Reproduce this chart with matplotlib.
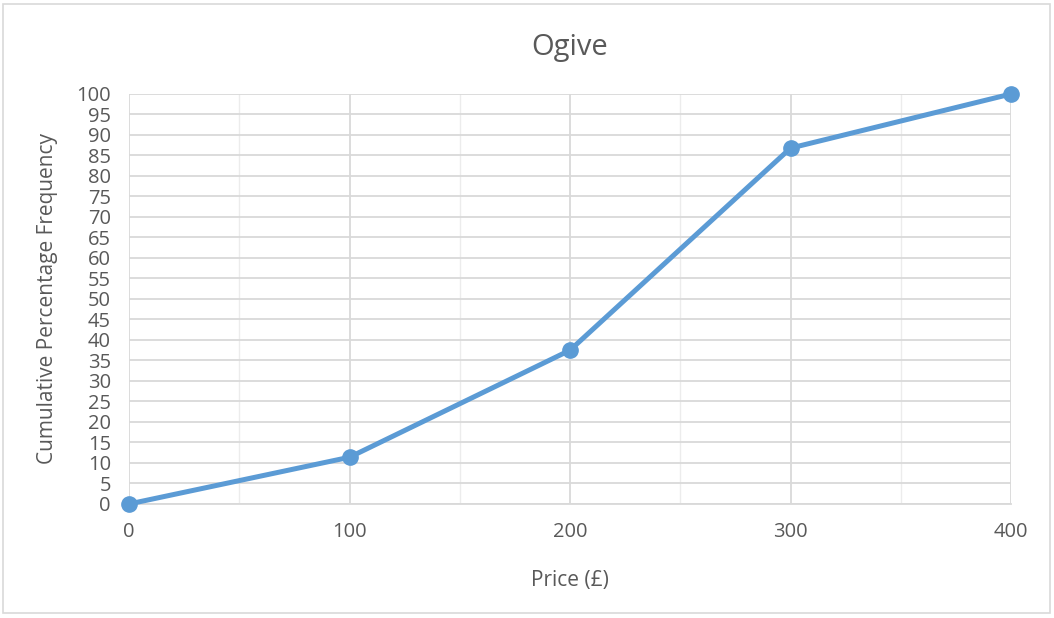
import matplotlib
matplotlib.use("Agg")
import matplotlib.pyplot as plt
from matplotlib.patches import Rectangle

price = [0, 100, 200, 300, 400]
cum_pct = [0, 11.4, 37.5, 86.8, 100]
y_ticks = list(range(0, 101, 5))
x_ticks = [0, 100, 200, 300, 400]

plt.rcParams['font.family'] = ['Open Sans', 'DejaVu Sans']

fig = plt.figure(figsize=(10.54, 6.18), dpi=100)
fig.patches.append(Rectangle((0.003, 0.008), 0.993, 0.985, transform=fig.transFigure,
                             fill=False, edgecolor='#d9d9d9', linewidth=1.2))
ax = fig.add_axes([0.1224, 0.1845, 0.8368, 0.6634])

ax.set_xlim(0, 400)
ax.set_ylim(0, 100)
ax.set_xticks(x_ticks)
ax.set_xticks([50, 150, 250, 350], minor=True)
ax.set_yticks(y_ticks)
ax.grid(which='major', color='#d9d9d9', linewidth=1.3)
ax.grid(which='minor', axis='x', color='#ececec', linewidth=1.0)
ax.set_axisbelow(True)
for s in ['top', 'right', 'left']:
    ax.spines[s].set_visible(False)
ax.spines['bottom'].set_color('#d9d9d9')
ax.spines['bottom'].set_linewidth(1.3)
ax.tick_params(which='both', length=0, labelsize=14.5, colors='#595959')
ax.tick_params(axis='x', pad=13)
ax.tick_params(axis='y', pad=13)

ax.plot(price, cum_pct, color='#5B9BD5', linewidth=3.6, marker='o', markersize=11,
        clip_on=False, zorder=3)

ax.set_title('Ogive', fontsize=21, color='#595959', pad=28)
ax.set_xlabel('Price (£)', fontsize=15, color='#595959', labelpad=20)
ax.set_ylabel('Cumulative Percentage Frequency', fontsize=15, color='#595959', labelpad=13)

fig.savefig('out.png', dpi=100)
